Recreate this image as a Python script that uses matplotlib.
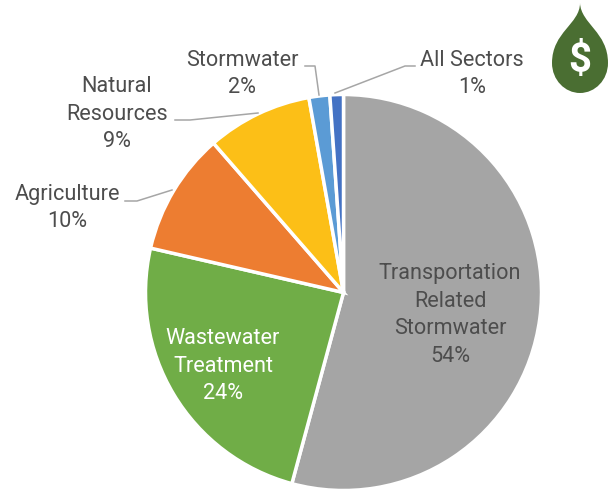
import matplotlib
matplotlib.use("Agg")
import matplotlib.pyplot as plt
from matplotlib.path import Path
from matplotlib.patches import PathPatch

labels = ["Transportation\nRelated\nStormwater\n54%", "Wastewater\nTreatment\n24%", "Agriculture\n10%",
          "Natural\nResources\n9%", "Stormwater\n2%", "All Sectors\n1%"]
# slightly off the rounded labels
values = [54.2, 24.4, 10.0, 8.6, 1.7, 1.1]
colors = ["#A5A5A5", "#70AD47", "#ED7D31", "#FCBF17", "#5B9BD5", "#4472C4"]

W, H = 613, 501
plt.rcParams['font.family'] = ['Roboto', 'DejaVu Sans']
fig = plt.figure(figsize=(W / 100, H / 100), dpi=100)
ax = fig.add_axes([0, 0, 1, 1])

# y axis gets inverted below so the pie runs clockwise on screen
ax.pie(values, colors=colors, startangle=-90, counterclock=True,
       center=(343.5, 292.5), radius=198, frame=False,
       wedgeprops=dict(edgecolor='white', linewidth=2.5))
ax.set_xlim(0, W)
ax.set_ylim(H, 0)
ax.set_aspect('equal')
ax.axis('off')

txt = "#4D4D4D"
fs = 15.6
ls = 1.42
ax.text(450, 315, labels[0], ha='center', va='center', fontsize=fs, color=txt, linespacing=ls)
ax.text(223, 366, labels[1], ha='center', va='center', fontsize=fs, color='white', linespacing=ls)
ax.text(67, 208, labels[2], ha='center', va='center', fontsize=fs, color=txt, linespacing=ls)
ax.text(117, 114, labels[3], ha='center', va='center', fontsize=fs, color=txt, linespacing=ls)
ax.text(242, 74, labels[4], ha='center', va='center', fontsize=fs, color=txt, linespacing=ls)
ax.text(472, 74, labels[5], ha='center', va='center', fontsize=fs, color=txt, linespacing=ls)

# leader lines
ax.plot([125, 137, 172], [201, 201, 190], color='#A6A6A6', lw=1.1)
ax.plot([175, 190, 258], [120, 120, 113], color='#A6A6A6', lw=1.1)
ax.plot([305, 315, 319], [66, 66, 95], color='#A6A6A6', lw=1.1)
ax.plot([415, 405, 335], [66, 66, 93], color='#A6A6A6', lw=1.1)

# droplet icon
drop = Path([(580, 3), (580, 24), (552, 32), (552, 63), (552, 80), (565, 93), (580, 93),
             (595, 93), (608, 80), (608, 63), (608, 32), (581, 24), (580, 3)],
            [Path.MOVETO] + [Path.CURVE4] * 12)
ax.add_patch(PathPatch(drop, facecolor='#4A6E32', edgecolor='none'))
ax.text(580, 60.5, "$", ha='center', va='center', fontsize=29, fontweight='bold', color='white', parse_math=False)

fig.savefig("out.png", dpi=100)
